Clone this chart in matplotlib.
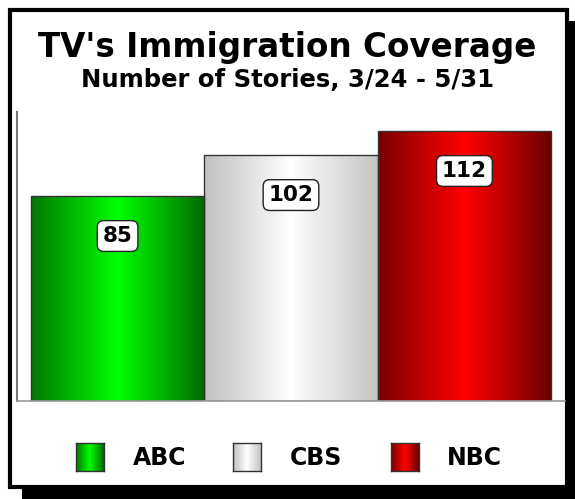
import matplotlib
matplotlib.use('Agg')
import matplotlib.pyplot as plt
import numpy as np
from matplotlib.patches import Rectangle
from matplotlib.colors import LinearSegmentedColormap

networks = ['ABC', 'CBS', 'NBC']
stories = [85, 102, 112]

title = "TV's Immigration Coverage"
subtitle = 'Number of Stories, 3/24 - 5/31'

# edge / centre / edge colours for each bar's gradient
gradients = [
    ['#007800', '#00ff00', '#006a00'],
    ['#c0c0c0', '#ffffff', '#c4c4c4'],
    ['#7a0000', '#ff0000', '#6a0000'],
]

W, H = 575, 499
fig = plt.figure(figsize=(W / 100, H / 100), dpi=100, facecolor='white')


def px(x, y):
    # pixel coords (top-left origin) to figure fraction
    return x / W, 1 - y / H


# drop shadow + framed box
fig.patches.append(Rectangle(px(22, 500), 560 / W, 479 / H, transform=fig.transFigure,
                             facecolor='black', edgecolor='none', zorder=0))
fig.patches.append(Rectangle(px(10, 487), 557 / W, 477 / H, transform=fig.transFigure,
                             facecolor='white', edgecolor='black', lw=3, zorder=1))

fig.text(0.5, px(0, 47)[1], title, ha='center', va='center', fontsize=23.5,
         fontweight='bold', family='DejaVu Sans', zorder=3)
fig.text(0.5, px(0, 80)[1], subtitle, ha='center', va='center', fontsize=17.5,
         fontweight='bold', family='DejaVu Sans', zorder=3)

ax = fig.add_axes([17 / W, 1 - 401 / H, 548 / W, 289 / H], zorder=2)
ax.patch.set_alpha(0)

bars = ax.bar(range(len(networks)), stories, width=1.0, color='none',
              edgecolor='#333333', lw=1)

for bar, cols, val in zip(bars, gradients, stories):
    cmap = LinearSegmentedColormap.from_list('g', cols)
    grad = np.linspace(0, 1, 256).reshape(1, -1)
    x0, w, h = bar.get_x(), bar.get_width(), bar.get_height()
    im = ax.imshow(grad, cmap=cmap, aspect='auto', extent=[x0, x0 + w, 0, h],
                   zorder=1, interpolation='bilinear')
    im.set_clip_path(bar)
    bar.set_zorder(2)
    ax.text(x0 + w / 2, h - 16.5, str(val), ha='center', va='center',
            fontsize=15.5, fontweight='bold', zorder=4,
            bbox=dict(boxstyle='round,pad=0.25,rounding_size=0.3',
                      facecolor='white', edgecolor='#222222', lw=1))

ax.set_xlim(-0.58, 2.58)
ax.set_ylim(0, 120)
ax.set_xticks([])
ax.set_yticks([])
for s in ['top', 'right']:
    ax.spines[s].set_visible(False)
ax.spines['left'].set_color('#777777')
ax.spines['left'].set_linewidth(1.5)
ax.spines['bottom'].set_color('#999999')
ax.spines['bottom'].set_linewidth(1.2)

# legend swatches
swatch_x = [76, 233, 391]
label_x = [133, 290, 447]
for sx, lx, cols, name in zip(swatch_x, label_x, gradients, networks):
    l, b = px(sx, 471)
    sax = fig.add_axes([l, b, 28 / W, 28 / H], zorder=3)
    cmap = LinearSegmentedColormap.from_list('g', cols)
    sax.imshow(np.linspace(0, 1, 64).reshape(1, -1), cmap=cmap, aspect='auto',
               interpolation='bilinear')
    sax.set_xticks([])
    sax.set_yticks([])
    for sp in sax.spines.values():
        sp.set_color('#333333')
        sp.set_linewidth(1)
    fig.text(px(lx, 0)[0], px(0, 458)[1], name, ha='left', va='center',
             fontsize=17, fontweight='bold', zorder=3)

fig.savefig('out.png', dpi=100, facecolor='white')
